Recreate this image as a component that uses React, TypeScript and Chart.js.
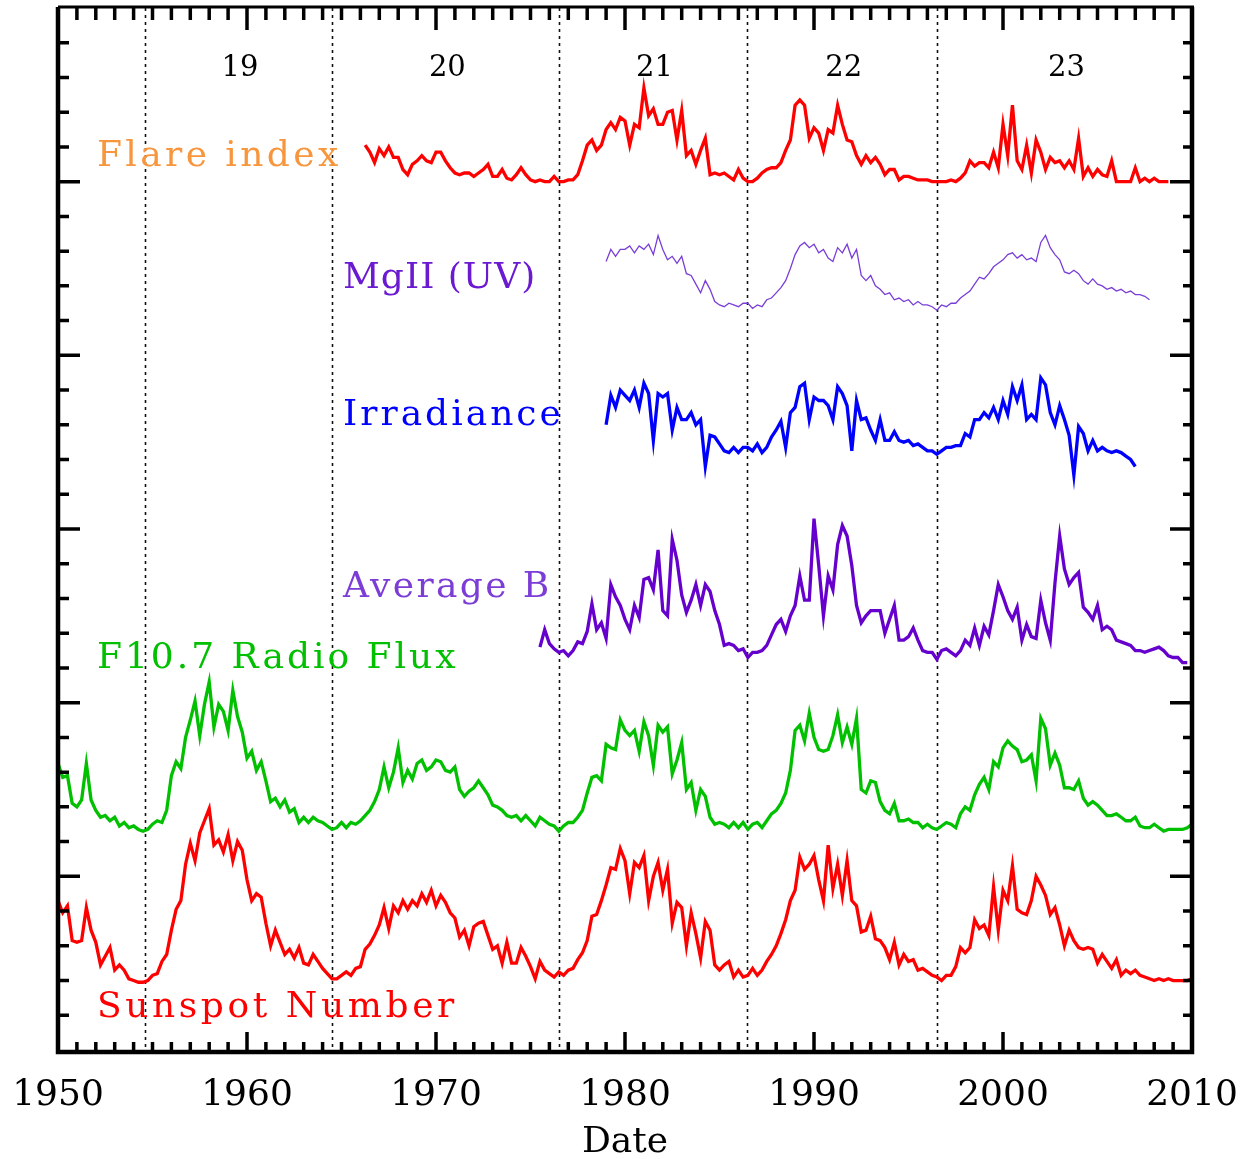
import React, { useEffect, useRef } from 'react';
import { Chart, registerables } from 'chart.js';

Chart.register(...registerables);

// Sampling step of every series (quarter year)
const STEP = 0.25;

// Sunspot number (stacked plot units), quarterly from 1950.0
const sunspotStart = 1950.0;
const sunspotValues = [
  86, 79, 83, 63, 62, 63, 82, 69, 62, 49, 54, 59, 46, 49, 46, 41, 40, 39, 39, 40,
  43, 44, 51, 55, 69, 81, 86, 107, 119, 109, 125, 132, 139, 118, 121, 114, 124, 109, 120, 115,
  98, 86, 90, 88, 73, 60, 69, 62, 55, 58, 53, 59, 50, 49, 55, 51, 47, 44, 41, 41,
  43, 45, 43, 47, 48, 58, 61, 66, 72, 82, 70, 83, 79, 86, 81, 86, 83, 90, 85, 92,
  83, 89, 85, 79, 76, 65, 69, 60, 71, 73, 74, 66, 58, 60, 50, 62, 50, 50, 59, 54,
  48, 41, 51, 46, 44, 42, 45, 43, 46, 47, 52, 56, 63, 77, 78, 86, 95, 105, 104, 116,
  109, 90, 108, 105, 112, 86, 100, 108, 92, 104, 73, 85, 82, 60, 79, 67, 53, 74, 69, 49,
  46, 49, 51, 42, 46, 42, 43, 47, 43, 46, 51, 55, 60, 67, 75, 86, 92, 111, 104, 107,
  112, 98, 86, 118, 93, 107, 89, 109, 86, 83, 68, 69, 77, 64, 63, 59, 52, 62, 49, 55,
  51, 52, 46, 47, 45, 43, 42, 40, 43, 43, 48, 59, 56, 59, 75, 70, 72, 66, 94, 69,
  92, 86, 106, 81, 79, 78, 86, 100, 95, 89, 78, 82, 72, 60, 69, 63, 59, 58, 59, 58,
  50, 55, 51, 47, 52, 43, 46, 44, 46, 43, 42, 41, 40, 41, 40, 41, 40, 40, 40, 40,
  41,
];

// F10.7 radio flux, quarterly from 1950.0
const f107Start = 1950.0;
const f107Values = [
  165, 157, 158, 142, 140, 144, 165, 144, 138, 134, 135, 132, 134, 129, 131, 128, 129, 127, 126, 127,
  130, 132, 131, 138, 158, 166, 162, 180, 190, 201, 181, 199, 212, 186, 199, 195, 184, 207, 192, 183,
  168, 172, 161, 166, 155, 143, 145, 140, 144, 137, 139, 131, 134, 131, 134, 132, 131, 129, 127, 128,
  131, 128, 131, 130, 132, 135, 138, 143, 150, 163, 151, 160, 174, 154, 161, 156, 165, 167, 161, 163,
  167, 166, 161, 160, 163, 150, 146, 149, 151, 155, 151, 147, 141, 140, 138, 135, 134, 135, 132, 135,
  132, 129, 134, 132, 130, 129, 126, 129, 131, 131, 134, 138, 148, 157, 158, 155, 176, 174, 173, 190,
  184, 181, 184, 172, 189, 181, 164, 187, 183, 186, 159, 167, 177, 150, 154, 138, 150, 146, 134, 130,
  131, 130, 128, 131, 128, 131, 127, 130, 131, 128, 132, 136, 138, 142, 148, 161, 184, 187, 178, 194,
  180, 173, 172, 173, 181, 193, 177, 186, 176, 191, 150, 148, 155, 154, 143, 138, 136, 142, 132, 132,
  133, 131, 131, 128, 130, 128, 127, 129, 131, 130, 128, 136, 140, 138, 147, 153, 157, 150, 166, 163,
  174, 178, 175, 173, 166, 167, 170, 155, 191, 185, 164, 171, 164, 151, 151, 150, 155, 145, 141, 143,
  141, 138, 135, 135, 136, 134, 132, 132, 134, 129, 128, 128, 130, 128, 126, 127, 127, 127, 127, 128,
  130,
];

// Average magnetic field B, quarterly from 1975.5
const avgBStart = 1975.5;
const avgBValues = [
  232, 242,
  234, 231, 229, 230, 227, 230, 235, 234, 241, 257, 242, 246, 237, 268, 261, 256,
  248, 242, 256, 249, 271, 272, 265, 288, 253, 250, 294, 282, 262, 252, 259, 268, 256, 268, 264, 253,
  245, 233, 234, 233, 230, 231, 226, 229, 229, 230, 233, 239, 245, 248, 241, 250, 256, 273, 259, 259,
  306, 279, 250, 273, 265, 291, 302, 296, 279, 256, 246, 250, 253, 253, 253, 240, 248, 256, 236, 236,
  238, 243, 236, 230, 229, 229, 225, 230, 231, 229, 227, 230, 236, 233, 243, 233, 244, 239, 253, 268,
  261, 253, 248, 255, 236, 245, 238, 237, 259, 246, 236, 269, 296, 277, 268, 272, 275, 255, 252, 248,
  256, 242, 244, 242, 236, 235, 234, 233, 230, 230, 229, 230, 231, 232, 230, 227, 226, 226, 223, 223,
];

// Total irradiance, quarterly from 1979.0
const irradianceStart = 1979.0;
const irradianceValues = [
  360, 377, 370, 380, 377, 374, 380, 370, 384, 378, 351, 378, 376, 378, 357, 370, 363, 363, 367, 360,
  363, 336, 354, 353, 349, 345, 344, 347, 344, 347, 347, 345, 349, 344, 347, 353, 357, 362, 347, 367,
  370, 382, 384, 363, 376, 374, 374, 371, 363, 382, 378, 371, 345, 374, 363, 364, 357, 351, 363, 351,
  351, 356, 351, 350, 351, 348, 349, 347, 345, 345, 343, 345, 347, 347, 348, 348, 355, 353, 363, 363,
  367, 364, 370, 363, 374, 366, 382, 374, 383, 363, 366, 363, 387, 383, 367, 360, 371, 363, 354, 331,
  359, 355, 345, 351, 345, 347, 345, 344, 345, 344, 342, 340, 336,
];

// MgII core-to-wing index (UV), quarterly from 1979.0
const mgiiStart = 1979.0;
const mgiiValues = [
  454, 461, 457, 461, 461, 463, 459, 463, 461, 464, 458, 469, 461, 455, 457, 453, 457, 447, 446, 441,
  436, 443, 438, 431, 429, 428, 430, 429, 428, 430, 430, 427, 429, 428, 432, 433, 436, 439, 443, 450,
  458, 463, 465, 462, 464, 459, 461, 456, 454, 462, 459, 464, 456, 461, 446, 443, 446, 440, 438, 435,
  436, 432, 433, 431, 432, 429, 431, 429, 429, 428, 426, 429, 428, 430, 430, 433, 435, 437, 441, 445,
  444, 447, 451, 453, 455, 458, 459, 456, 458, 455, 456, 454, 465, 469, 462, 458, 455, 448, 447, 449,
  447, 443, 441, 444, 441, 440, 438, 439, 437, 438, 436, 437, 435, 435, 434, 432,
];

// Flare index, quarterly from 1966.25
const flareStart = 1966.25;
const flareValues = [
  521, 517, 511,
  519, 515, 520, 514, 514, 507, 504, 510, 512, 515, 512, 511, 517, 517, 512, 508, 505, 504, 505, 505,
  503, 505, 507, 510, 503, 503, 507, 502, 501, 504, 508, 504, 501, 500, 501, 500, 500, 503, 500, 500,
  501, 501, 504, 512, 521, 524, 518, 521, 530, 534, 530, 537, 535, 521, 533, 531, 554, 538, 542, 533,
  533, 540, 541, 524, 541, 515, 518, 510, 518, 525, 504, 505, 504, 505, 503, 501, 507, 502, 500, 500,
  502, 505, 507, 508, 508, 511, 518, 524, 544, 547, 544, 525, 531, 528, 518, 530, 528, 544, 533, 524,
  523, 515, 510, 515, 511, 514, 510, 504, 507, 507, 501, 503, 503, 502, 501, 501, 501, 500, 500, 500,
  500, 501, 500, 502, 505, 512, 509, 511, 511, 508, 517, 508, 533, 515, 544, 512, 507, 521, 505, 524,
  517, 507, 514, 511, 512, 508, 512, 507, 525, 503, 508, 503, 507, 504, 503, 512, 500, 500, 500, 500,
  508, 500, 502, 500, 502, 500, 500, 500,
];

// Solar cycle minima (dotted lines) and cycle numbers
const cycleMinima = [1954.6, 1964.5, 1976.5, 1986.45, 1996.5];
const cycleNumbers = ['19', '20', '21', '22', '23'];
const cycleCenters = [1959.63, 1970.6, 1981.56, 1991.57, 2003.36];
const cycleLabelLevel = 565;

// Axis settings
const xMin = 1950;
const xMax = 2010;
const xStep = 10;
const yMin = 0;
const yMax = 600;

const FONT = '"DejaVu Serif", serif';

const seriesLabels = [
  { text: 'Flare index', color: '#f7963c', x: 1952.06, y: 509, spacing: 3.4 },
  { text: 'MgII (UV)', color: '#6a1ad0', x: 1965.08, y: 439, spacing: 1 },
  { text: 'Irradiance', color: '#0000ff', x: 1965.08, y: 360, spacing: 3 },
  { text: 'Average B', color: '#7c3cd6', x: 1965.08, y: 261, spacing: 2.4 },
  { text: 'F10.7 Radio Flux', color: '#00c000', x: 1952.06, y: 220, spacing: 3 },
  { text: 'Sunspot Number', color: '#ff0000', x: 1952.06, y: 19, spacing: 3.6 },
];

const toPoints = (start: number, values: number[]) =>
  values.map((v, i) => ({ x: start + i * STEP, y: v }));

const decorPlugin = {
  id: 'decor',
  beforeDatasetsDraw(chart: any) {
    const { ctx, chartArea: a, scales } = chart;
    const x = scales.x;
    ctx.save();
    ctx.strokeStyle = '#111';
    ctx.lineWidth = 1.6;
    ctx.setLineDash([3, 4]);
    for (const yr of cycleMinima) {
      const px = Math.round(x.getPixelForValue(yr)) + 0.5;
      ctx.beginPath();
      ctx.moveTo(px, a.top);
      ctx.lineTo(px, a.bottom);
      ctx.stroke();
    }
    ctx.restore();
  },
  afterDraw(chart: any) {
    const { ctx, chartArea: a, scales } = chart;
    const x = scales.x;
    const y = scales.y;
    ctx.save();
    ctx.strokeStyle = '#000';
    ctx.lineCap = 'butt';
    ctx.setLineDash([]);
    // x ticks (every year, major every 10)
    ctx.lineWidth = 3.5;
    for (let yr = xMin + 1; yr < xMax; yr++) {
      const px = x.getPixelForValue(yr);
      const major = yr % 10 === 0;
      ctx.beginPath();
      ctx.moveTo(px, a.bottom);
      ctx.lineTo(px, a.bottom - (major ? 18 : 8));
      ctx.moveTo(px, a.top);
      ctx.lineTo(px, a.top + (major ? 22 : 12));
      ctx.stroke();
    }
    // y ticks (minor every 20, major every 100)
    for (let v = yMin + 20; v < yMax; v += 20) {
      const py = y.getPixelForValue(v);
      const major = v % 100 === 0;
      ctx.beginPath();
      ctx.moveTo(a.left, py);
      ctx.lineTo(a.left + (major ? 22 : 11), py);
      ctx.moveTo(a.right, py);
      ctx.lineTo(a.right - (major ? 22 : 9), py);
      ctx.stroke();
    }
    // frame
    ctx.lineWidth = 4.5;
    ctx.beginPath();
    ctx.moveTo(a.left, a.top - 1);
    ctx.lineTo(a.left, a.bottom + 2);
    ctx.lineTo(a.right, a.bottom + 2);
    ctx.lineTo(a.right, a.top - 1);
    ctx.stroke();
    ctx.lineWidth = 3;
    ctx.beginPath();
    ctx.moveTo(a.left, a.top - 1);
    ctx.lineTo(a.right + 2, a.top - 1);
    ctx.stroke();

    // cycle numbers
    ctx.fillStyle = '#000';
    ctx.font = `29px ${FONT}`;
    ctx.textAlign = 'center';
    ctx.textBaseline = 'middle';
    cycleNumbers.forEach((t, i) => {
      ctx.fillText(t, x.getPixelForValue(cycleCenters[i]), y.getPixelForValue(cycleLabelLevel));
    });

    // series labels
    ctx.font = `36px ${FONT}`;
    ctx.textAlign = 'left';
    ctx.textBaseline = 'alphabetic';
    for (const l of seriesLabels) {
      (ctx as any).letterSpacing = `${l.spacing}px`;
      ctx.fillStyle = l.color;
      ctx.fillText(l.text, x.getPixelForValue(l.x), y.getPixelForValue(l.y));
    }
    ctx.restore();
  },
};

export default function App() {
  const ref = useRef<HTMLCanvasElement | null>(null);
  useEffect(() => {
    if (!ref.current) return;
    const line = (label: string, start: number, values: number[], color: string, width: number) => ({
      label,
      data: toPoints(start, values),
      borderColor: color,
      backgroundColor: color,
      borderWidth: width,
      pointRadius: 0,
      tension: 0,
      fill: false,
    });
    const chart = new Chart(ref.current, {
      type: 'line',
      data: {
        datasets: [
          line('Sunspot Number', sunspotStart, sunspotValues, '#ff0000', 3.3),
          line('F10.7 Radio Flux', f107Start, f107Values, '#00c000', 3.3),
          line('Average B', avgBStart, avgBValues, '#6600cc', 3.3),
          line('Irradiance', irradianceStart, irradianceValues, '#0000ff', 3.3),
          line('MgII (UV)', mgiiStart, mgiiValues, '#7a3ed8', 1.3),
          line('Flare index', flareStart, flareValues, '#ff0000', 3.3),
        ],
      },
      options: {
        animation: false,
        responsive: false,
        devicePixelRatio: 1,
        layout: { padding: { left: 58, right: 53, top: 8, bottom: 15 } },
        plugins: { legend: { display: false }, tooltip: { enabled: false } },
        scales: {
          x: {
            type: 'linear',
            min: xMin,
            max: xMax,
            grid: { display: false, drawTicks: false },
            border: { display: false },
            ticks: {
              stepSize: xStep,
              autoSkip: false,
              maxRotation: 0,
              padding: 6,
              color: '#000',
              font: { family: FONT, size: 36, lineHeight: 80 / 36 },
              callback: (v: any) => String(v),
            },
            title: {
              display: true,
              text: 'Date',
              color: '#000',
              font: { family: FONT, size: 36, lineHeight: 2 / 36 },
              padding: { top: 0, bottom: 0 },
            },
          },
          y: {
            type: 'linear',
            min: yMin,
            max: yMax,
            display: false,
          },
        },
      },
      plugins: [decorPlugin],
    });
    return () => chart.destroy();
  }, []);
  return (
    <div style={{ position: 'absolute', left: 0, top: 0, width: 1245, height: 1159, background: '#fff' }}>
      <canvas ref={ref} width={1245} height={1159} />
    </div>
  );
}
